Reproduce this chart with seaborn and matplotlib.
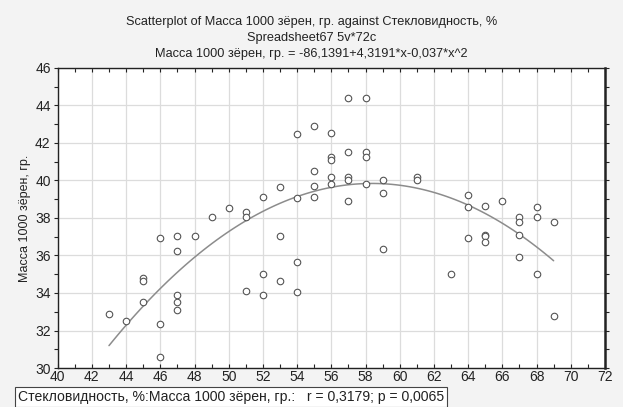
import numpy as np
import pandas as pd
import matplotlib
matplotlib.use("Agg")
import matplotlib.pyplot as plt
import seaborn as sns
from matplotlib.ticker import MultipleLocator

# Стекловидность, % (x) and Масса 1000 зёрен, гр. (y)
glassiness = [43, 44, 45, 45, 45, 46, 46, 46, 47, 47, 47, 47, 47, 48, 49, 50,
              51, 51, 51, 52, 52, 52, 53, 53, 53, 54, 54, 54, 54,
              55, 55, 55, 55, 56, 56, 56, 56, 56, 57, 57, 57, 57, 57,
              58, 58, 58, 58, 59, 59, 59, 61, 61, 63, 64, 64, 64,
              65, 65, 65, 65, 66, 67, 67, 67, 67, 68, 68, 68, 69, 69]
mass = [32.9, 32.5, 34.8, 34.65, 33.53, 36.93, 32.33, 30.57, 37.02, 36.24, 33.9, 33.53, 33.12, 37.02, 38.04, 38.54,
        38.3, 38.04, 34.12, 39.14, 35.01, 33.9, 39.64, 37.02, 34.63, 42.46, 39.06, 35.65, 34.05,
        42.92, 40.53, 39.73, 39.14, 42.55, 41.25, 41.07, 40.16, 39.82, 44.38, 41.53, 40.16, 40.02, 38.91,
        44.38, 41.53, 41.27, 39.82, 40.02, 39.32, 36.33, 40.16, 40.02, 35.01, 39.23, 38.56, 36.93,
        38.65, 37.09, 37.02, 36.7, 38.91, 38.04, 37.81, 37.11, 35.92, 38.56, 38.04, 35.01, 37.81, 32.78]

x_ticks = list(range(40, 73, 2))
y_ticks = list(range(30, 47, 2))

df = pd.DataFrame({"x": glassiness, "y": mass})

sns.set_theme(style="white")
plt.rcParams["font.family"] = ["Liberation Sans", "DejaVu Sans"]

fig = plt.figure(figsize=(6.23, 4.07), dpi=100)
fig.patch.set_facecolor("#f3f3f3")
ax = fig.add_axes([0.0926, 0.0958, 0.971 - 0.0926, 0.833 - 0.0958])
ax.set_facecolor("white")

sns.regplot(data=df, x="x", y="y", order=2, ci=None, scatter=False, ax=ax,
            line_kws=dict(color="#8c8c8c", lw=1.1), truncate=True)
sns.scatterplot(data=df, x="x", y="y", ax=ax, marker="o", s=22,
                facecolor="white", edgecolor="#555555", linewidth=0.8, zorder=3)

ax.set_xlim(40, 72)
ax.set_ylim(30, 46)
ax.set_xticks(x_ticks)
ax.set_yticks(y_ticks)
ax.xaxis.set_minor_locator(MultipleLocator(1))
ax.yaxis.set_minor_locator(MultipleLocator(1))
ax.grid(True, which="major", color="#dcdcdc", lw=0.9)
ax.set_axisbelow(True)
for s in ax.spines.values():
    s.set_color("#222222")
    s.set_linewidth(1.0)
ax.spines["right"].set_linewidth(1.8)
ax.tick_params(axis="both", which="both", direction="in", length=3, width=0.8,
               color="#222222", top=True, right=True, bottom=True, left=True,
               labelsize=10, labelcolor="#222222")
ax.tick_params(axis="x", which="major", pad=1.5)
ax.tick_params(axis="y", which="both", direction="out", left=True, pad=2)
ax.tick_params(axis="y", which="both", right=True)
ax.set_xlabel("")
ax.set_ylabel("Масса 1000 зёрен, гр.", fontsize=9, color="#222222", labelpad=3)

fig.text(0.5, 0.946, "Scatterplot of Масса 1000 зёрен, гр. against Стекловидность, %",
         ha="center", va="center", fontsize=9.2, color="#222222")
fig.text(0.5, 0.907, "Spreadsheet67 5v*72c", ha="center", va="center", fontsize=9.2, color="#222222")
fig.text(0.5, 0.867, "Масса 1000 зёрен, гр. = -86,1391+4,3191*x-0,037*x^2",
         ha="center", va="center", fontsize=9.2, color="#222222")
fig.text(0.029, 0.0245, "Стекловидность, %:Масса 1000 зёрен, гр.:   r = 0,3179; p = 0,0065",
         ha="left", va="center", fontsize=10.1, color="#222222",
         bbox=dict(boxstyle="square,pad=0.2", facecolor="white", edgecolor="#444444", lw=0.8))

fig.savefig("out.png", dpi=100, facecolor=fig.get_facecolor())
